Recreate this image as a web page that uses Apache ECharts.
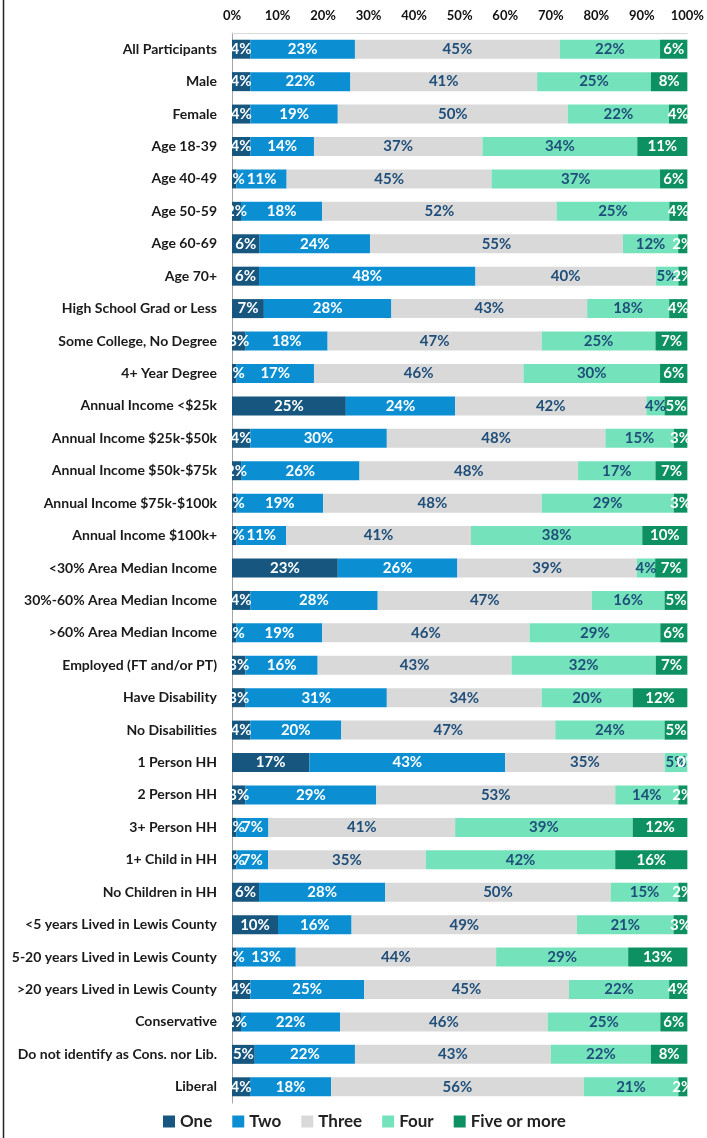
<!DOCTYPE html>
<html>
<head>
<meta charset="utf-8">
<script src="https://cdn.jsdelivr.net/npm/echarts@6/dist/echarts.min.js"></script>
<style>
html,body{margin:0;padding:0;background:#fff;}
#chart{width:707px;height:1138px;}
</style>
</head>
<body>
<div id="chart"></div>
<script>
const categories = [
  "All Participants","Male","Female","Age 18-39","Age 40-49","Age 50-59","Age 60-69","Age 70+",
  "High School Grad or Less","Some College, No Degree","4+ Year Degree",
  "Annual Income <$25k","Annual Income $25k-$50k","Annual Income $50k-$75k","Annual Income $75k-$100k","Annual Income $100k+",
  "<30% Area Median Income","30%-60% Area Median Income",">60% Area Median Income",
  "Employed (FT and/or PT)","Have Disability","No Disabilities",
  "1 Person HH","2 Person HH","3+ Person HH","1+ Child in HH","No Children in HH",
  "<5 years Lived in Lewis County","5-20 years Lived in Lewis County",">20 years Lived in Lewis County",
  "Conservative","Do not identify as Cons. nor Lib.","Liberal"
];
const seriesNames = ["One","Two","Three","Four","Five or more"];
const one   = [4,4,4,4,1,2,6,6,7,3,1,25,4,2,1,1,23,4,1,3,3,4,17,3,1,1,6,10,1,4,2,5,4];
const two   = [23,22,19,14,11,18,24,48,28,18,17,24,30,26,19,11,26,28,19,16,31,20,43,29,7,7,28,16,13,25,22,22,18];
const three = [45,41,50,37,45,52,55,40,43,47,46,42,48,48,48,41,39,47,46,43,34,47,35,53,41,35,50,49,44,45,46,43,56];
const four  = [22,25,22,34,37,25,12,5,18,25,30,4,15,17,29,38,4,16,29,32,20,24,5,14,39,42,15,21,29,22,25,22,21];
const five  = [6,8,4,11,6,4,2,2,4,7,6,5,3,7,3,10,7,5,6,7,12,5,0,2,12,16,2,3,13,4,6,8,2];

const colors = ["#17577f","#0b8fd2","#d9d9d9","#74e3bc","#0e9162"];
const labelColors = ["#ffffff","#ffffff","#1f4e79","#1f4e79","#ffffff"];
const dataSets = [one,two,three,four,five];
// 100% stacked: each row scaled to its total, labels keep the rounded percentages
const rowTotals = categories.map(function(_,r){
  return dataSets.reduce(function(s,d){return s+d[r];},0);
});

const chart = echarts.init(document.getElementById('chart'));
const FONT = 'Lato';
chart.setOption({
  animation:false,
  backgroundColor:'#ffffff',
  textStyle:{fontFamily:FONT},
  grid:{left:232,right:14,top:33,bottom:35,containLabel:false},
  legend:{
    bottom:3,left:158,
    itemWidth:12,itemHeight:12,itemGap:20,
    icon:'rect',
    textStyle:{fontFamily:FONT,fontWeight:'bold',fontSize:17,color:'#222'},
    data:seriesNames
  },
  xAxis:{
    type:'value',position:'top',min:0,max:100,interval:10,
    axisLine:{show:true,lineStyle:{color:'#d9d9d9',width:1}},
    axisTick:{show:false},
    splitLine:{show:false},
    axisLabel:{formatter:function(v){return v+'%';},fontFamily:FONT,fontWeight:'bold',fontSize:13,color:'#111',margin:11}
  },
  yAxis:{
    type:'category',inverse:true,data:categories,
    axisLine:{show:true,lineStyle:{color:'#a6a6a6',width:1}},
    axisTick:{show:false},
    axisLabel:{fontFamily:FONT,fontWeight:'bold',fontSize:14,color:'#1a1a1a',margin:15}
  },
  graphic:[{type:'line',shape:{x1:3.5,y1:0,x2:3.5,y2:1138},style:{stroke:'#222',lineWidth:1.5},silent:true}],
  series: seriesNames.map(function(name,i){
    return {
      name:name,type:'bar',stack:'total',barWidth:19,
      itemStyle:{color:colors[i]},
      label:{show:true,position:'inside',
        formatter:function(p){return dataSets[i][p.dataIndex]+'%';},
        fontFamily:FONT,fontWeight:'bold',fontSize:15,color:labelColors[i]},
      data:dataSets[i].map(function(v,r){return v/rowTotals[r]*100;})
    };
  })
});
</script>
</body>
</html>
